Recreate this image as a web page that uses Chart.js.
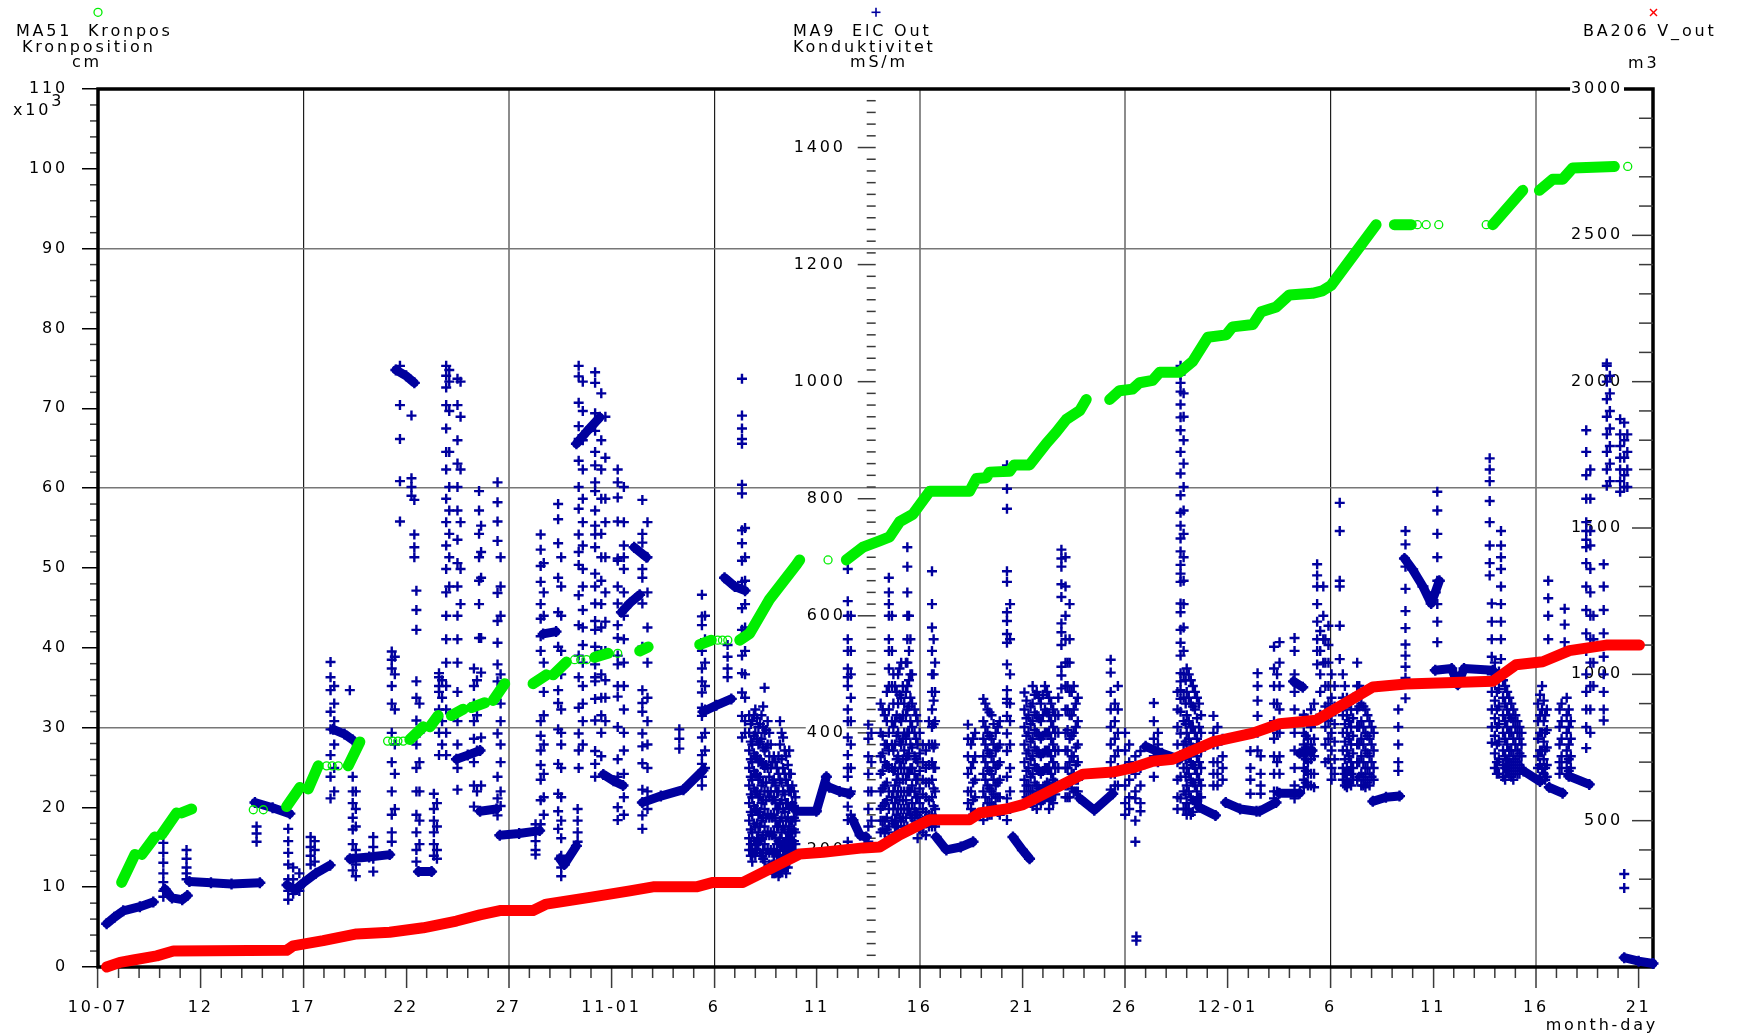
<!DOCTYPE html>
<html>
<head>
<meta charset="utf-8">
<script src="https://cdn.jsdelivr.net/npm/chart.js@4.4.1/dist/chart.umd.min.js"></script>
<style>
  html, body { margin: 0; padding: 0; background: #fff; }
  canvas { display: block; }
</style>
</head>
<body>
<canvas id="trendChart" width="1742" height="1036"></canvas>
<script>
// x values are days since 10-07 00:00
const dayTickLabels = ["10-07", "12", "17", "22", "27", "11-01", "6", "11", "16", "21", "26", "12-01", "6", "11", "16", "21"];
const kronTicks = [0, 10, 20, 30, 40, 50, 60, 70, 80, 90, 100, 110];
const elcTicks = [200, 400, 600, 800, 1000, 1200, 1400];
const voutTicks = [500, 1000, 1500, 2000, 2500, 3000];

// MA51 Kronpos (cm, x10^3) - continuous runs
const kronSegments = [
  [[1.15, 10.6], [1.8, 14.1]],
  [[2.13, 14.1], [2.77, 16.3]],
  [[3.1, 16.6], [3.83, 19.3]],
  [[4.07, 19.3], [4.56, 19.8]],
  [[9.18, 20.1], [9.83, 22.5]],
  [[10.23, 22.3], [10.72, 25.2]],
  [[12.18, 25.2], [12.75, 28.2]],
  [[15.18, 28.5], [15.83, 30.1]],
  [[16.16, 30.1], [16.56, 31.5]],
  [[17.2, 31.5], [17.78, 32.3]],
  [[18.18, 32.5], [18.83, 33.1]],
  [[19.24, 33.4], [19.8, 35.5]],
  [[21.18, 35.5], [21.83, 36.6]],
  [[22.16, 36.6], [22.8, 38.2]],
  [[24.18, 38.8], [24.83, 39.3]],
  [[26.37, 39.6], [26.78, 40.1]],
  [[29.29, 40.4], [29.86, 40.95]],
  [[31.24, 40.95], [31.73, 41.8], [32.7, 46.1], [34.0, 50.4], [34.16, 51.0]],
  [[36.43, 51.0], [37.24, 52.6], [38.05, 53.4], [38.54, 53.9], [39.03, 55.8], [39.66, 56.7], [40.49, 59.6], [42.43, 59.6],
   [42.76, 61.2], [43.25, 61.3], [43.4, 62.0], [44.38, 62.1], [44.6, 62.9], [45.35, 62.9], [46.17, 65.6], [46.65, 67.0],
   [47.14, 68.6], [47.79, 69.7], [48.11, 71.1]],
  [[49.25, 71.1], [49.73, 72.2], [50.36, 72.4], [50.71, 73.2], [51.34, 73.5], [51.68, 74.5], [52.65, 74.5], [53.3, 75.9],
   [54.03, 78.9], [54.92, 79.2], [55.23, 80.2], [56.22, 80.5], [56.63, 82.1], [57.36, 82.7], [58.0, 84.2], [59.12, 84.4],
   [59.6, 84.7], [60.03, 85.4], [62.22, 93.0]],
  [[63.11, 93.0], [63.93, 93.0]],
  [[67.9, 93.0], [69.36, 97.3]],
  [[70.17, 97.3], [70.82, 98.7], [71.3, 98.7], [71.79, 100.1], [73.82, 100.3]]
];
// single samples drawn as open rings
const kronRings = [
  [7.56, 19.7], [8.05, 19.7], [11.13, 25.2], [11.4, 25.2], [11.7, 25.2], [14.1, 28.3], [14.35, 28.3], [14.6, 28.3],
  [14.86, 28.3], [23.2, 38.5], [23.5, 38.5], [23.78, 38.5], [25.3, 39.3], [30.17, 40.95], [30.4, 40.95], [30.66, 40.95],
  [35.54, 51.0], [64.23, 93.0], [64.66, 93.0], [65.27, 93.0], [67.58, 93.0], [74.47, 100.3]
];

// BA206 V_out (m3)
const voutLine = [
  [0.42, 0], [1.07, 16], [1.72, 24], [2.86, 38], [3.67, 55], [9.18, 57], [9.5, 72], [10.96, 90], [12.59, 113], [14.2, 119],
  [15.83, 134], [17.45, 157], [18.59, 178], [19.56, 193], [21.18, 193], [21.83, 215], [23.94, 238], [25.89, 260],
  [27.02, 274], [29.13, 274], [29.94, 289], [31.4, 289], [34.16, 386], [35.3, 392], [37.24, 407], [38.05, 410],
  [39.03, 452], [40.49, 503], [42.43, 503], [42.92, 526], [44.22, 540], [45.03, 555], [47.95, 659], [49.4, 666],
  [50.38, 681], [51.35, 703], [52.32, 710], [54.27, 769], [56.22, 799], [57.52, 831], [59.3, 843], [62.06, 957],
  [63.68, 967], [67.9, 976], [69.03, 1033], [70.33, 1043], [71.63, 1081], [73.41, 1100], [75.04, 1100]
];

// MA9 ElC Out (mS/m) - dense baseline runs
const elcBands = [
  [[0.42, 74], [0.8, 85], [1.23, 96], [2.04, 103], [2.69, 111]],
  [[3.26, 133], [3.6, 118], [4.1, 115], [4.35, 122]],
  [[4.45, 146], [5.5, 144], [6.5, 142], [7.88, 144]],
  [[7.64, 281], [8.5, 272], [9.34, 262]],
  [[9.2, 140], [9.6, 132], [10.0, 144], [10.6, 160], [11.3, 174]],
  [[11.45, 406], [12.0, 398], [12.4, 388]],
  [[12.26, 185], [13.2, 188], [14.2, 192]],
  [[14.5, 1020], [15.0, 1010], [15.4, 998]],
  [[15.6, 163], [16.24, 163]],
  [[17.45, 355], [18.0, 362], [18.6, 370]],
  [[18.6, 266], [19.4, 270]],
  [[19.56, 225], [20.5, 228], [21.5, 233]],
  [[21.67, 569], [22.3, 573]],
  [[22.48, 185], [22.7, 175], [23.29, 207]],
  [[23.29, 894], [23.8, 915], [24.43, 939]],
  [[24.6, 329], [25.1, 318], [25.56, 310]],
  [[25.48, 606], [25.9, 622], [26.37, 636]],
  [[26.1, 717], [26.7, 700]],
  [[26.5, 281], [27.4, 292], [28.5, 303], [29.45, 336]],
  [[29.45, 436], [30.1, 447], [30.83, 458]],
  [[30.5, 665], [31.0, 650], [31.5, 643]],
  [[34.0, 266], [34.97, 266], [35.46, 325]],
  [[35.6, 307], [36.1, 300], [36.6, 296]],
  [[36.75, 251], [37.1, 225], [37.4, 222]],
  [[40.8, 222], [41.3, 200], [42.0, 205], [42.6, 214]],
  [[44.54, 222], [45.0, 200], [45.35, 185]],
  [[47.8, 288], [48.5, 268], [49.4, 296]],
  [[51.0, 377], [51.8, 365], [52.65, 355]],
  [[53.6, 273], [54.4, 259]],
  [[54.9, 281], [55.6, 270], [56.4, 266]],
  [[56.55, 266], [57.35, 281]],
  [[57.5, 297], [58.5, 297]],
  [[58.2, 488], [58.65, 478]],
  [[58.5, 365], [59.1, 370]],
  [[62.06, 283], [62.7, 290], [63.36, 292]],
  [[63.6, 698], [64.0, 679], [64.5, 650], [64.9, 621], [65.1, 640], [65.3, 660]],
  [[65.1, 507], [65.9, 510], [66.2, 482], [66.5, 510], [67.9, 507]],
  [[69.4, 335], [70.2, 317]],
  [[70.65, 307], [71.3, 297]],
  [[71.6, 326], [72.6, 312]],
  [[74.3, 16], [75.0, 10], [75.7, 6]]
];

// MA9 ElC Out scattered samples: [day, value, value, ...]
const elcOctCols = [
  [3.18, 229, 212, 195, 178, 160, 145, 130, 120],
  [4.31, 200, 185, 170, 160, 150],
  [7.72, 240, 228, 214],
  [9.26, 236, 215, 195, 175, 150, 130, 115],
  [9.5, 170, 150, 125],
  [9.8, 160, 130],
  [10.35, 222, 205, 190, 175],
  [10.55, 215, 200, 180],
  [11.32, 521, 495, 473, 436, 406, 362, 325, 288],
  [11.5, 480, 450, 420, 380, 340, 300],
  [12.26, 473],
  [12.4, 325, 300, 280, 255, 235, 210, 185, 165],
  [12.55, 300, 270, 240, 200, 175, 155],
  [13.4, 222, 205, 185, 163],
  [14.3, 539, 525, 510, 480, 450, 400, 350, 300, 260, 230, 214],
  [14.45, 530, 500, 440, 380, 330, 270],
  [14.7, 1027, 960, 902, 830, 761],
  [15.26, 942, 835, 820, 805],
  [15.4, 798, 739, 717, 700],
  [15.5, 643, 610, 576, 488, 460, 421, 380, 340, 300, 260, 230, 200, 180],
  [15.65, 450, 400, 350, 300, 250, 210],
  [16.35, 296, 270, 250, 230, 210, 190],
  [16.5, 280, 240, 200, 185],
  [16.6, 502, 495, 480, 470, 440, 400, 362],
  [16.75, 490, 460, 420, 380],
  [16.95, 1027, 1010, 990, 960, 920, 880, 850, 800, 760, 720, 680, 640, 600, 560, 520, 480, 440, 400, 362],
  [17.1, 1020, 1000, 950, 880, 820, 780, 740, 700, 650],
  [17.5, 1005, 960, 900, 860, 820, 780, 730, 690, 650, 600, 560, 520, 470, 420, 380, 340, 303],
  [17.65, 1000, 940, 850, 760, 680, 620],
  [18.3, 510, 480, 450, 420, 390, 350, 310, 274],
  [18.45, 490, 430, 370, 300],
  [18.55, 813, 780, 740, 700, 660, 620, 562],
  [18.65, 754, 709, 665, 562, 503, 392, 310],
  [19.45, 828, 794, 761, 728, 639, 591, 554, 517, 488, 399, 325, 288, 259],
  [19.6, 700, 650, 600, 500, 450, 420, 380, 350, 300, 275],
  [21.3, 244, 230, 215, 200, 192],
  [21.55, 739, 713, 685, 658, 620, 595, 565, 540, 420, 395, 370, 345, 320, 285, 244],
  [21.7, 690, 640, 600, 520, 470, 430, 380, 330, 290, 260],
  [22.4, 791, 765, 724, 665, 606, 547, 473, 451, 406, 347, 296, 266, 236],
  [22.55, 700, 650, 600, 540, 500, 440, 400, 380, 340, 290, 250, 220, 190, 170, 155],
  [23.35, 270, 250, 230, 214],
  [23.4, 1027, 1009, 964, 924, 902, 865, 820, 783, 739, 709, 687, 635, 584, 532, 495, 443, 399, 370, 340],
  [23.6, 1000, 950, 900, 850, 800, 760, 720, 680, 650, 610, 580, 550, 520, 480, 450, 420, 380],
  [24.2, 1016, 998, 946, 916, 880, 857, 828, 813, 780, 754, 739, 717, 672, 650, 621, 591, 576, 547, 517, 495, 488, 458, 421, 369, 347, 325],
  [24.5, 980, 900, 850, 800, 740, 700, 660, 620, 580, 540, 500, 460, 430, 400, 360],
  [24.7, 940, 870, 800, 760, 700, 640, 590, 540, 490, 460, 420]
];
const elcNovCols = [
  [25.3, 850, 828, 802, 761, 698, 694, 650, 621, 584, 562, 532, 517, 480, 462, 410, 355, 325, 273, 251],
  [25.6, 820, 760, 720, 700, 680, 640, 600, 560, 520, 480, 440, 400, 370, 330, 290, 260],
  [26.5, 798, 740, 725, 680, 665, 621, 547, 473, 451, 436, 399, 377, 348, 303, 259, 236],
  [26.75, 760, 700, 640, 580, 520, 460, 420, 380, 340, 300, 270],
  [28.3, 406, 390, 373],
  [29.4, 636, 599, 584, 540, 510, 488, 469, 443, 429, 392, 362, 347, 325, 310],
  [29.55, 600, 560, 520, 480, 440, 400, 370, 340],
  [30.65, 550, 530, 510, 495],
  [31.35, 1005, 942, 920, 902, 894, 824, 809, 746, 724, 694, 658, 613, 576, 532, 502, 469, 429, 392],
  [31.5, 750, 700, 660, 620, 580, 540, 500, 460, 420, 400],
  [31.7, 430, 400, 370, 340, 310, 280, 250, 220, 200],
  [31.78, 415, 385, 355, 325, 295, 265, 235, 210, 190],
  [31.85, 420, 380, 350, 320, 290, 260, 230, 200, 180],
  [31.93, 430, 395, 365, 335, 305, 275, 245, 215, 195],
  [32.0, 440, 400, 360, 330, 300, 270, 240, 210, 190],
  [32.08, 425, 390, 360, 330, 300, 270, 245, 220, 200],
  [32.15, 410, 380, 350, 320, 290, 260, 230, 210],
  [32.23, 415, 385, 355, 325, 295, 265, 240, 215, 195],
  [32.3, 430, 390, 350, 310, 280, 250, 220, 190],
  [32.38, 445, 410, 375, 345, 315, 285, 255, 225, 200, 185],
  [32.45, 477, 400, 370, 340, 300, 270, 240, 210, 180],
  [32.53, 405, 375, 345, 315, 285, 255, 225, 195],
  [32.6, 420, 380, 340, 300, 260, 230, 200],
  [32.68, 400, 360, 325, 290, 255, 225, 195, 175],
  [32.75, 380, 340, 300, 260, 230, 200, 170],
  [32.83, 350, 315, 285, 255, 225, 195, 175, 160],
  [32.9, 360, 320, 290, 260, 230, 200, 180, 160],
  [32.98, 350, 310, 280, 250, 220, 195, 175, 160],
  [33.05, 340, 300, 270, 240, 210, 190, 170],
  [33.13, 360, 330, 300, 270, 240, 215, 190, 170, 155],
  [33.2, 420, 380, 320, 280, 250, 220, 200, 180, 160],
  [33.28, 400, 355, 315, 285, 255, 230, 205, 185, 165],
  [33.35, 392, 340, 300, 270, 240, 210, 190, 170],
  [33.43, 370, 330, 295, 265, 235, 210, 190, 170],
  [33.5, 360, 320, 280, 250, 220, 200, 180, 160],
  [33.58, 345, 310, 280, 255, 230, 210, 190, 170],
  [33.65, 370, 330, 300, 270, 240, 220, 200, 180],
  [33.73, 330, 300, 275, 250, 230, 210, 190],
  [33.8, 310, 280, 250, 230, 210, 190],
  [33.88, 300, 275, 255, 235, 215, 200],
  [33.95, 290, 270, 250, 230, 210],
  [36.5, 680, 625, 600, 560, 540, 510, 495, 480, 440, 420, 392, 362, 340, 325, 296, 274, 251, 214],
  [36.65, 600, 540, 500, 460, 420, 380, 340, 300, 260],
  [37.5, 414, 390, 360, 330, 300, 270, 240, 214],
  [37.65, 400, 350, 300, 250],
  [38.1, 450, 400, 360, 330, 300, 270, 250, 230],
  [38.2, 440, 395, 365, 335, 305, 275, 250, 235],
  [38.3, 430, 380, 350, 310, 280, 250, 230],
  [38.4, 470, 420, 380, 345, 315, 285, 255, 235],
  [38.5, 665, 640, 620, 600, 560, 540, 510, 480, 440, 400, 370, 340, 300, 270, 240, 222],
  [38.65, 600, 540, 480, 420, 380, 340, 290, 250],
  [38.72, 500, 450, 410, 370, 335, 300, 270, 245],
  [38.8, 480, 420, 380, 340, 310, 280, 250, 230],
  [38.88, 470, 430, 395, 355, 320, 290, 260, 240],
  [38.95, 500, 450, 400, 360, 330, 300, 270, 240],
  [39.02, 510, 465, 425, 385, 350, 315, 285, 255],
  [39.1, 520, 460, 420, 380, 340, 300, 270, 250],
  [39.18, 480, 430, 390, 355, 320, 285, 255],
  [39.25, 450, 400, 370, 340, 300, 270, 240],
  [39.33, 520, 470, 430, 390, 355, 320, 285, 255],
  [39.4, 717, 684, 640, 600, 560, 520, 480, 440, 400, 360, 330, 300, 270, 240],
  [39.48, 600, 540, 490, 445, 400, 365, 330, 300, 270],
  [39.55, 560, 500, 460, 420, 380, 340, 300, 260],
  [39.63, 500, 450, 410, 375, 340, 310, 280, 255],
  [39.75, 440, 400, 360, 330, 300, 270, 250],
  [39.83, 430, 390, 355, 320, 290, 265, 240],
  [39.9, 420, 380, 350, 320, 290, 260, 240, 220],
  [40.0, 400, 365, 335, 305, 280, 255, 235],
  [40.15, 380, 350, 320, 295, 270, 250, 230],
  [40.3, 370, 340, 315, 290, 265, 245, 225],
  [40.45, 420, 380, 345, 315, 285, 260, 240],
  [40.6, 676, 620, 580, 540, 500, 470, 440, 410, 380, 350, 320, 290, 260, 240],
  [40.68, 560, 500, 455, 415, 375, 340, 305, 275, 250],
  [40.75, 520, 470, 420, 380, 340, 300, 270, 240],
  [42.35, 414, 390, 360, 330, 300, 280, 251],
  [42.5, 380, 340, 300, 270],
  [42.6, 390, 350, 315, 285, 260],
  [42.7, 400, 360, 320, 290, 260],
  [43.1, 458, 420, 390, 360, 330, 300, 270, 251],
  [43.2, 450, 410, 380, 350, 320, 290, 265],
  [43.3, 440, 400, 370, 340, 310, 280, 260],
  [43.4, 435, 395, 365, 335, 305, 280, 260],
  [43.5, 430, 390, 360, 330, 300, 280, 260],
  [43.6, 415, 380, 350, 320, 295, 275],
  [43.7, 400, 370, 340, 310, 290, 270],
  [43.8, 410, 375, 345, 315, 290, 265],
  [43.9, 420, 380, 350, 320, 290, 260],
  [44.25, 857, 817, 783, 676, 658, 606, 591, 569, 554, 517, 473, 458, 451, 429, 399, 369, 325, 288, 251],
  [44.4, 620, 560, 500, 450, 420, 380, 340, 300, 270],
  [45.1, 469, 440, 410, 380, 350, 320, 300, 280],
  [45.2, 455, 425, 395, 365, 335, 310, 290],
  [45.3, 430, 400, 370, 340, 310, 290],
  [45.4, 445, 415, 385, 355, 325, 300, 280],
  [45.5, 480, 450, 420, 390, 360, 330, 300, 275],
  [45.6, 465, 435, 405, 375, 345, 315, 290],
  [45.7, 470, 430, 400, 370, 340, 310, 290, 270],
  [45.8, 460, 425, 395, 365, 335, 305, 285],
  [45.9, 450, 420, 390, 360, 330, 300, 280],
  [46.0, 465, 430, 395, 365, 335, 305, 285],
  [46.1, 480, 440, 400, 370, 340, 310, 290],
  [46.2, 470, 435, 400, 370, 340, 315, 290],
  [46.3, 460, 430, 400, 370, 340, 310, 290, 270],
  [46.4, 450, 420, 390, 360, 330, 305, 285],
  [46.5, 440, 410, 380, 350, 320, 300, 280],
  [46.6, 430, 400, 370, 340, 315, 295],
  [46.75, 460, 430, 400, 370, 340, 310],
  [46.9, 713, 698, 684, 654, 632, 587, 572, 550, 513, 498, 476],
  [47.1, 700, 650, 600, 560, 520, 480, 440, 400, 370, 340, 310, 290],
  [47.2, 520, 480, 440, 405, 370, 340, 310, 290],
  [47.3, 620, 560, 520, 470, 430, 390, 350, 320, 290],
  [47.4, 470, 430, 395, 360, 330, 305],
  [47.5, 480, 440, 400, 360, 330, 300],
  [47.6, 450, 410, 375, 345, 320, 300],
  [47.7, 460, 420, 380, 350, 320, 300],
  [49.3, 525, 503, 470, 440, 410, 380, 350, 330, 303],
  [49.5, 450, 420, 390, 360, 330, 310],
  [49.65, 480, 440, 400, 370, 340, 310],
  [50.0, 400, 370, 340, 310, 280, 260],
  [50.2, 380, 350, 320, 290, 270],
  [50.5, 360, 330, 300, 288, 250, 214],
  [50.55, 52, 45],
  [50.75, 369, 340, 310, 280, 266],
  [51.4, 451, 420, 390, 360, 325],
  [51.6, 400, 380, 350],
  [52.55, 470, 440, 410, 380, 350, 320, 290, 270],
  [52.7, 1027, 1012, 998, 983, 961, 939, 917, 880, 843, 806, 776, 754, 732, 710, 687, 672, 658, 621, 606, 576, 554, 532, 502, 488, 473, 458, 436, 399, 362, 325, 288],
  [52.85, 980, 940, 900, 860, 820, 780, 740, 700, 660, 620, 580, 540, 500, 460, 420, 380, 340, 300, 270],
  [52.95, 490, 450, 415, 385, 355, 325, 295, 270],
  [53.0, 510, 470, 430, 400, 370, 340, 310, 280, 260],
  [53.1, 500, 460, 420, 390, 360, 330, 300, 270],
  [53.2, 490, 450, 410, 380, 350, 320, 290, 260],
  [53.3, 480, 445, 410, 375, 345, 315, 285, 265],
  [53.4, 470, 440, 400, 370, 340, 310, 280],
  [53.5, 460, 425, 390, 360, 330, 300, 280],
  [53.6, 450, 410, 380, 350, 320, 290],
  [53.7, 430, 400, 370, 340, 310, 290],
  [54.3, 429, 400, 380, 350, 330, 310],
  [54.5, 410, 380, 350, 330, 310],
  [54.75, 390, 360, 340, 320]
];
const elcDecCols = [
  [56.1, 369, 340, 320, 296],
  [56.45, 502, 480, 455, 429, 400, 370],
  [56.6, 360, 330, 310, 296],
  [57.25, 547, 510, 480, 450, 420, 390, 360, 330, 300, 288],
  [57.4, 500, 450, 400, 350, 300],
  [57.52, 555, 520, 480, 440, 400, 360, 330, 297],
  [58.25, 562, 540, 500, 470, 440, 400, 370, 340, 310, 288],
  [58.7, 431, 400, 380, 360, 340, 320, 307],
  [58.8, 425, 395, 375, 355, 335, 315],
  [58.9, 420, 390, 370, 350, 330, 310],
  [59.05, 440, 410, 380, 355, 330, 310],
  [59.2, 450, 420, 390, 360, 330, 307],
  [59.35, 688, 669, 650, 620, 590, 560, 540, 517],
  [59.5, 574, 540, 500, 470, 431],
  [59.65, 650, 600, 560, 520],
  [59.75, 560, 520, 480, 445, 410, 380, 350],
  [59.9, 583, 550, 520, 480, 450, 420, 390, 355],
  [60.05, 500, 460, 430, 400, 370, 340, 320],
  [60.2, 480, 445, 415, 385, 355, 330],
  [60.45, 793, 745, 660, 650, 583, 526],
  [60.6, 500, 460, 430, 400, 370, 340, 320],
  [60.7, 480, 445, 415, 385, 355, 330, 310],
  [60.8, 460, 430, 400, 370, 340, 320, 307],
  [60.9, 450, 420, 390, 360, 335, 315],
  [61.0, 440, 410, 380, 350, 330, 310],
  [61.1, 460, 425, 395, 365, 340, 320],
  [61.3, 520, 480, 440, 410, 380, 350, 320],
  [61.4, 480, 445, 410, 380, 350, 325],
  [61.5, 450, 420, 390, 360, 330, 310],
  [61.6, 445, 410, 380, 350, 325, 310],
  [61.7, 440, 400, 370, 340, 320, 307],
  [61.8, 430, 395, 365, 340, 315],
  [61.9, 420, 390, 360, 330, 310],
  [62.0, 410, 380, 350, 325],
  [62.1, 400, 370, 340, 320],
  [63.3, 440, 410, 380, 350, 335],
  [63.65, 745, 722, 684, 646, 608, 579, 551, 532, 513, 494, 459],
  [65.2, 812, 780, 740, 700, 660, 620, 590, 555],
  [67.75, 869, 850, 830, 796, 760, 720, 690, 669],
  [67.85, 621, 590, 560, 530, 500, 470, 440, 410, 383],
  [68.0, 520, 485, 455, 425, 395, 365, 340],
  [68.1, 498, 470, 440, 410, 380, 350, 330],
  [68.2, 505, 475, 445, 415, 385, 355, 330],
  [68.3, 745, 720, 700, 680, 650, 620, 590, 560, 526],
  [68.4, 490, 460, 430, 400, 370, 345, 325],
  [68.5, 480, 450, 420, 390, 360, 340, 320],
  [68.6, 470, 440, 410, 380, 355, 335],
  [68.7, 460, 430, 400, 370, 350, 330],
  [68.8, 450, 425, 400, 370, 345, 325],
  [68.9, 440, 420, 390, 360, 340, 320],
  [69.0, 430, 410, 380, 355, 335],
  [69.1, 420, 400, 370, 350, 330],
  [69.2, 410, 390, 365, 345, 330],
  [69.3, 400, 380, 360, 340],
  [70.1, 450, 420, 390, 360, 340, 320],
  [70.2, 465, 430, 400, 370, 345, 325],
  [70.3, 480, 440, 400, 370, 340],
  [70.38, 455, 420, 385, 355, 330],
  [70.45, 430, 400, 370, 340, 320],
  [70.53, 440, 405, 375, 345, 325],
  [70.6, 660, 630, 600, 560, 526],
  [71.15, 440, 410, 380, 350, 330],
  [71.25, 450, 420, 390, 360, 340],
  [71.4, 612, 585, 555],
  [71.5, 460, 430, 400, 370, 350, 330],
  [71.6, 440, 410, 380, 355, 335],
  [71.7, 420, 390, 360, 340],
  [72.45, 917, 880, 840, 800, 760, 745, 730, 717, 690, 650, 610, 570, 540, 500, 470, 440, 410, 374],
  [72.65, 850, 800, 745, 720, 680, 640, 600, 560, 520, 480, 440, 400],
  [72.8, 600, 560, 520, 480],
  [73.3, 688, 650, 610, 570, 530, 500, 470, 440, 421],
  [73.45, 1031, 1027, 1000, 970, 940, 910, 880, 850, 822],
  [73.6, 1010, 980, 950, 920, 890, 860, 830],
  [74.1, 936, 910, 890, 870, 850, 830, 812],
  [74.3, 930, 900, 870, 840, 820, 159, 135],
  [74.45, 910, 880, 850, 820]
];

const GREEN = "#00ee00";
const BLUE = "#00009e";
const RED = "#ff0000";
const INK = "#000";
const FONT = '16px "DejaVu Sans"';
const SPACING = "2.8px";
const elcAxisDay = 37.86; // where the conductivity axis stands inside the plot

function pairsToXY(pairs) {
  return pairs.map(([x, y]) => ({ x, y }));
}

function segmentsToXY(segments) {
  const out = [];
  segments.forEach((seg) => {
    seg.forEach(([x, y]) => out.push({ x, y }));
    out.push({ x: seg[seg.length - 1][0], y: null });
  });
  return out;
}

function columnsToXY(cols) {
  const out = [];
  cols.forEach(([day, ...vals]) => vals.forEach((v) => out.push({ x: day, y: v })));
  return out;
}

function line(ctx, x1, y1, x2, y2) {
  ctx.beginPath();
  ctx.moveTo(x1, y1);
  ctx.lineTo(x2, y2);
  ctx.stroke();
}

function labelWithBackdrop(ctx, str, x, y) {
  const w = ctx.measureText(str).width;
  ctx.fillStyle = "#fff";
  ctx.fillRect(x - w - 1, y - 8, w + 2, 16);
  ctx.fillStyle = INK;
  ctx.fillText(str, x, y);
}

const axisDecor = {
  id: "axisDecor",
  beforeDraw(chart) {
    chart.ctx.letterSpacing = SPACING;
  },
  beforeDatasetsDraw(chart) {
    const { ctx, chartArea: a, scales } = chart;
    ctx.save();
    ctx.letterSpacing = SPACING;

    // daily minor ticks under the time axis
    ctx.strokeStyle = "#3a3a3a";
    ctx.lineWidth = 1.5;
    for (let d = 1; d <= 75; d++) {
      if (d % 5 === 0) continue;
      const x = scales.x.getPixelForValue(d);
      line(ctx, x, a.bottom, x, a.bottom + 11);
    }
    // left axis minor ticks
    for (let v = 2; v < 110; v += 2) {
      if (v % 10 === 0) continue;
      const y = scales.y.getPixelForValue(v);
      line(ctx, a.left - 8, y, a.left, y);
    }

    // frame
    ctx.strokeStyle = "#000";
    ctx.lineWidth = 3.5;
    ctx.strokeRect(a.left, a.top, a.right - a.left, a.bottom - a.top);

    // right axis (m3): ticks point inwards, labels inside the plot
    ctx.strokeStyle = "#3a3a3a";
    ctx.lineWidth = 1.5;
    for (let v = 100; v < 3000; v += 100) {
      const y = scales.yV.getPixelForValue(v);
      line(ctx, a.right - (v % 500 === 0 ? 21 : 14), y, a.right, y);
    }
    ctx.font = FONT;
    ctx.textAlign = "right";
    ctx.textBaseline = "middle";
    voutTicks.forEach((v) => labelWithBackdrop(ctx, String(v), a.right - 30, scales.yV.getPixelForValue(v)));

    // conductivity axis floating in the plot
    const ex = scales.x.getPixelForValue(elcAxisDay);
    ctx.strokeStyle = "#3a3a3a";
    ctx.lineWidth = 1.5;
    for (let v = 20; v < 1500; v += 20) {
      const y = scales.yE.getPixelForValue(v);
      line(ctx, ex - (v % 200 === 0 ? 18 : 9), y, ex, y);
    }
    elcTicks.forEach((v) => labelWithBackdrop(ctx, String(v), ex - 30, scales.yE.getPixelForValue(v)));

    // headers
    ctx.fillStyle = INK;
    ctx.textAlign = "left";
    ctx.textBaseline = "alphabetic";
    ctx.fillText("MA51  Kronpos", 16, 36);
    ctx.fillText("Kronposition", 22, 52);
    ctx.fillText("cm", 72, 66.5);
    ctx.fillText("MA9  ElC Out", 793, 36);
    ctx.fillText("Konduktivitet", 793, 52);
    ctx.fillText("mS/m", 850, 66.5);
    ctx.fillText("BA206 V_out", 1583, 36);
    ctx.fillText("m3", 1628, 67.5);
    ctx.fillText("x10", 13, 115);
    ctx.fillText("3", 13 + ctx.measureText("x10").width, 106);
    ctx.textAlign = "right";
    ctx.fillText("month-day", 1658, 1030);

    // series markers above the headers
    ctx.lineWidth = 1.3;
    ctx.strokeStyle = GREEN;
    ctx.beginPath();
    ctx.arc(98, 12.3, 4, 0, Math.PI * 2);
    ctx.stroke();
    ctx.strokeStyle = BLUE;
    ctx.lineWidth = 1.6;
    line(ctx, 871.5, 12.3, 880.5, 12.3);
    line(ctx, 876, 7.8, 876, 16.8);
    ctx.strokeStyle = RED;
    ctx.lineWidth = 1.4;
    line(ctx, 1650, 9, 1657, 16);
    line(ctx, 1650, 16, 1657, 9);
    ctx.restore();
  }
};

Chart.defaults.font.family = '"DejaVu Sans"';
Chart.defaults.font.size = 16;
Chart.defaults.color = INK;

const darkGridDays = [10, 30, 60];
const greyGridDays = [20, 40, 50, 70];

new Chart(document.getElementById("trendChart"), {
  type: "scatter",
  data: {
    datasets: [
      {
        label: "BA206 V_out",
        yAxisID: "yV",
        data: pairsToXY(voutLine),
        showLine: true,
        borderColor: RED,
        borderWidth: 11,
        pointRadius: 0,
        borderCapStyle: "round",
        borderJoinStyle: "round",
        clip: false,
        order: 1,
      },
      {
        label: "MA51 Kronpos",
        yAxisID: "y",
        data: segmentsToXY(kronSegments),
        showLine: true,
        spanGaps: false,
        borderColor: GREEN,
        borderWidth: 11,
        pointRadius: 0,
        borderCapStyle: "round",
        borderJoinStyle: "round",
        order: 2,
      },
      {
        label: "MA51 Kronpos",
        yAxisID: "y",
        data: pairsToXY(kronRings),
        pointStyle: "circle",
        pointRadius: 4,
        pointBorderWidth: 1.3,
        pointBorderColor: GREEN,
        pointBackgroundColor: "rgba(0,0,0,0)",
        order: 3,
      },
      {
        label: "MA9 ElC Out",
        yAxisID: "yE",
        data: columnsToXY([...elcOctCols, ...elcNovCols, ...elcDecCols]),
        pointStyle: "cross",
        pointRadius: 5,
        pointBorderWidth: 2.4,
        pointBorderColor: BLUE,
        clip: false,
        order: 4,
      },
      {
        label: "MA9 ElC Out",
        yAxisID: "yE",
        data: segmentsToXY(elcBands),
        showLine: true,
        spanGaps: false,
        borderColor: BLUE,
        borderWidth: 9,
        pointStyle: "cross",
        pointRadius: 5.5,
        pointBorderWidth: 2.4,
        pointBorderColor: BLUE,
        borderCapStyle: "round",
        borderJoinStyle: "round",
        clip: false,
        order: 5,
      },
    ],
  },
  options: {
    responsive: false,
    devicePixelRatio: 1,
    animation: false,
    events: [],
    layout: { padding: { top: 89, right: 89, left: 0, bottom: 0 } },
    plugins: { legend: { display: false }, tooltip: { enabled: false } },
    scales: {
      x: {
        type: "linear",
        position: "bottom",
        min: 0,
        max: 75.7,
        afterBuildTicks: (s) => { s.ticks = dayTickLabels.map((_, i) => ({ value: i * 5 })); },
        afterFit: (s) => { s.height = 69; },
        border: { display: false },
        grid: {
          color: (c) => darkGridDays.includes(c.tick.value) ? "#1e1e1e"
            : greyGridDays.includes(c.tick.value) ? "#8c8c8c" : "rgba(0,0,0,0)",
          lineWidth: (c) => (greyGridDays.includes(c.tick.value) ? 2 : 1.2),
          tickColor: "#3a3a3a",
          tickWidth: 1.5,
          tickLength: 21,
        },
        ticks: {
          autoSkip: false,
          maxRotation: 0,
          padding: 10,
          color: INK,
          font: { size: 16 },
          callback: (v, i) => dayTickLabels[i],
        },
      },
      y: {
        type: "linear",
        position: "left",
        min: 0,
        max: 110,
        afterBuildTicks: (s) => { s.ticks = kronTicks.map((v) => ({ value: v })); },
        afterFit: (s) => { s.width = 98; },
        border: { display: false },
        grid: {
          color: (c) => ([30, 60, 90].includes(c.tick.value) ? "#777" : "rgba(0,0,0,0)"),
          lineWidth: 1.5,
          tickColor: "#000",
          tickWidth: 1.5,
          tickLength: 16,
        },
        ticks: {
          padding: 14,
          color: INK,
          font: { size: 16 },
          callback: (v) => String(v),
        },
      },
      yE: { type: "linear", display: false, min: 0, max: 1500 },
      yV: { type: "linear", display: false, position: "right", min: 0, max: 3000 },
    },
  },
  plugins: [axisDecor],
});
</script>
</body>
</html>
